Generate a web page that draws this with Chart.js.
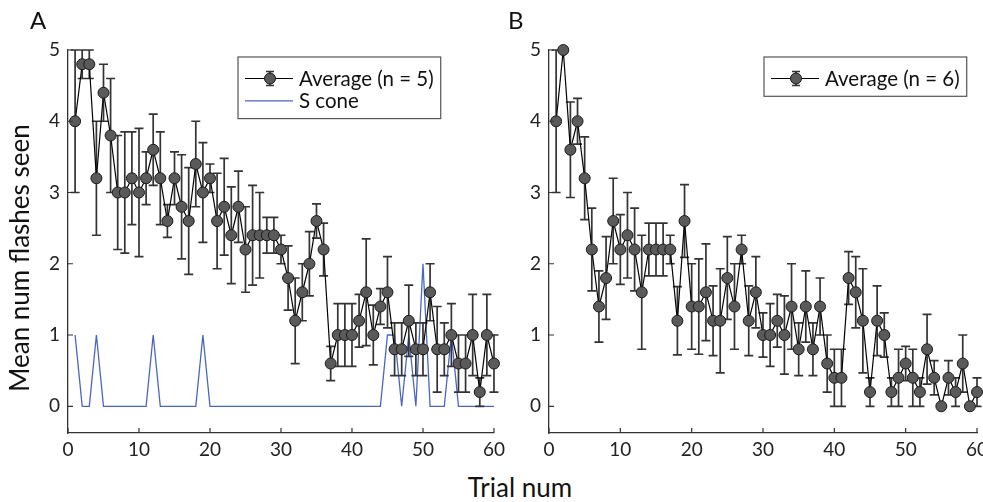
<!DOCTYPE html>
<html>
<head>
<meta charset="utf-8">
<script src="https://cdn.jsdelivr.net/npm/chart.js@4.4.1/dist/chart.umd.min.js"></script>
<style>
  body { margin: 0; width: 983px; height: 502px; overflow: hidden; background: #fff; position: relative; font-family: Lato, sans-serif; color: #111; }
  canvas { position: absolute; top: 0; }
  #chartA { left: 0; }
  #chartB { left: 480px; }
  .panel { position: absolute; font-size: 24px; line-height: 24px; }
  #ytitle { position: absolute; left: -181px; top: 245px; width: 400px; height: 26px; font-size: 26px; line-height: 26px; text-align: center; transform: rotate(-90deg); }
  #xtitle { position: absolute; left: 320px; top: 474px; width: 400px; font-size: 26px; line-height: 26px; text-align: center; }
</style>
</head>
<body>
<canvas id="chartA" width="510" height="470"></canvas>
<canvas id="chartB" width="520" height="470"></canvas>
<div class="panel" style="left:30px; top:8px">A</div>
<div class="panel" style="left:508px; top:8px">B</div>
<div id="ytitle">Mean num flashes seen</div>
<div id="xtitle">Trial num</div>
<script>
// trial numbers (shared by both panels)
const trials = [1, 2, 3, 4, 5, 6, 7, 8, 9, 10, 11, 12, 13, 14, 15, 16, 17, 18, 19, 20,
  21, 22, 23, 24, 25, 26, 27, 28, 29, 30, 31, 32, 33, 34, 35, 36, 37, 38, 39, 40,
  41, 42, 43, 44, 45, 46, 47, 48, 49, 50, 51, 52, 53, 54, 55, 56, 57, 58, 59, 60];

// panel A : average of 5 + S cone trace
const labelA = 'Average (n = 5)';
const meanA = [4.0, 4.8, 4.8, 3.2, 4.4, 3.8, 3.0, 3.0, 3.2, 3.0, 3.2, 3.6, 3.2, 2.6, 3.2, 2.8, 2.6, 3.4, 3.0, 3.2,
  2.6, 2.8, 2.4, 2.8, 2.2, 2.4, 2.4, 2.4, 2.4, 2.2, 1.8, 1.2, 1.6, 2.0, 2.6, 2.2, 0.6, 1.0, 1.0, 1.0,
  1.2, 1.6, 1.0, 1.4, 1.6, 0.8, 0.8, 1.2, 0.8, 0.8, 1.6, 0.8, 0.8, 1.0, 0.6, 0.6, 1.0, 0.2, 1.0, 0.6];
const errA = [1.0, 0.2, 0.2, 0.8, 0.4, 0.8, 0.8, 0.85, 0.65, 0.9, 0.37, 0.5, 0.65, 0.23, 0.37, 0.73, 0.75, 0.6, 0.7, 0.2,
  0.67, 0.68, 0.68, 0.5, 0.6, 0.7, 0.6, 0.25, 0.25, 0.2, 0.45, 0.6, 0.4, 0.45, 0.24, 0.37, 0.24, 0.44, 0.44, 0.44,
  0.37, 0.75, 0.42, 0.25, 0.5, 0.37, 0.37, 0.5, 0.37, 0.37, 0.4, 0.6, 0.37, 0.44, 0.4, 0.4, 0.57, 0.2, 0.57, 0.4];
const labelSCone = 'S cone';
const sConeA = [1, 0, 0, 1, 0, 0, 0, 0, 0, 0, 0, 1, 0, 0, 0, 0, 0, 0, 1, 0,
  0, 0, 0, 0, 0, 0, 0, 0, 0, 0, 0, 0, 0, 0, 0, 0, 0, 0, 0, 0,
  0, 0, 0, 0, 1, 1, 0, 1, 0, 2, 0, 0, 0, 1, 0, 0, 0, 0, 0, 0];

// panel B : average of 6
const labelB = 'Average (n = 6)';
const meanB = [4.0, 5.0, 3.6, 4.0, 3.2, 2.2, 1.4, 1.8, 2.6, 2.2, 2.4, 2.2, 1.6, 2.2, 2.2, 2.2, 2.2, 1.2, 2.6, 1.4,
  1.4, 1.6, 1.2, 1.2, 1.8, 1.4, 2.2, 1.2, 1.6, 1.0, 1.0, 1.2, 1.0, 1.4, 0.8, 1.4, 0.8, 1.4, 0.6, 0.4,
  0.4, 1.8, 1.6, 1.2, 0.2, 1.2, 1.0, 0.2, 0.4, 0.6, 0.4, 0.2, 0.8, 0.4, 0.0, 0.4, 0.2, 0.6, 0.0, 0.2];
const errB = [1.0, 0, 0.67, 0.32, 0.58, 0.58, 0.5, 0.58, 0.6, 0.49, 0.6, 0.58, 0.8, 0.37, 0.37, 0.37, 0.2, 0.48, 0.51, 0.6,
  0.67, 0.68, 0.49, 0.73, 0.58, 0.6, 0.2, 0.49, 0.5, 0.31, 0.44, 0.37, 0.55, 0.6, 0.37, 0.5, 0.37, 0.4, 0.4, 0.4,
  0.4, 0.37, 0.5, 0.73, 0.2, 0.49, 0.31, 0.2, 0.4, 0.24, 0.4, 0.2, 0.49, 0.24, 0, 0.24, 0.2, 0.4, 0, 0.2];

// axes
const xTicks = [0, 10, 20, 30, 40, 50, 60];
const yTicks = [0, 1, 2, 3, 4, 5];
const xMin = 0, xMax = 60, yMin = -0.375, yMax = 5;

Chart.defaults.font.family = 'Lato, sans-serif';
Chart.defaults.color = '#222';

// error bars, drawn under the line + markers
const errorBars = {
  id: 'errorBars',
  beforeDatasetDraw(chart, args) {
    const ds = chart.data.datasets[args.index];
    if (!ds.errors) return;
    const { ctx, scales: { x, y } } = chart;
    ctx.save();
    ctx.strokeStyle = '#333';
    ctx.lineWidth = 1.7;
    ctx.beginPath();
    ds.data.forEach((pt, i) => {
      const e = ds.errors[i];
      if (!e) return;
      const px = x.getPixelForValue(pt.x);
      const top = y.getPixelForValue(pt.y + e);
      const bot = y.getPixelForValue(pt.y - e);
      ctx.moveTo(px, top); ctx.lineTo(px, bot);
      ctx.moveTo(px - 4.5, top); ctx.lineTo(px + 4.5, top);
      ctx.moveTo(px - 4.5, bot); ctx.lineTo(px + 4.5, bot);
    });
    ctx.stroke();
    ctx.restore();
  }
};

// matlab style ticks pointing into the plot
const inwardTicks = {
  id: 'inwardTicks',
  afterDraw(chart) {
    const { ctx, chartArea, scales: { x, y } } = chart;
    ctx.save();
    ctx.strokeStyle = '#333';
    ctx.lineWidth = 1.2;
    ctx.beginPath();
    x.ticks.forEach(t => {
      const px = x.getPixelForValue(t.value);
      ctx.moveTo(px, chartArea.bottom); ctx.lineTo(px, chartArea.bottom - 5);
    });
    y.ticks.forEach(t => {
      const py = y.getPixelForValue(t.value);
      ctx.moveTo(chartArea.left, py); ctx.lineTo(chartArea.left + 5, py);
    });
    ctx.stroke();
    ctx.restore();
  }
};

// boxed legend with line + marker + errorbar glyph
const boxLegend = {
  id: 'boxLegend',
  afterDraw(chart, args, opts) {
    const { ctx } = chart;
    const sets = chart.data.datasets;
    ctx.save();
    ctx.font = '20.5px Lato, sans-serif';
    const textW = Math.max(...sets.map(d => ctx.measureText(d.label).width));
    const w = 61 + textW + 7;
    const h = 17 + 22.3 * sets.length;
    ctx.fillStyle = '#fff';
    ctx.fillRect(opts.left, opts.top, w, h);
    ctx.strokeStyle = '#555';
    ctx.lineWidth = 1.2;
    ctx.strokeRect(opts.left, opts.top, w, h);
    sets.forEach((d, i) => {
      const cy = opts.top + 21.5 + i * 22.3;
      ctx.strokeStyle = d.borderColor;
      ctx.lineWidth = d.borderWidth;
      ctx.beginPath();
      ctx.moveTo(opts.left + 7, cy); ctx.lineTo(opts.left + 55, cy);
      ctx.stroke();
      if (d.errors) {
        const mx = opts.left + 32;
        ctx.strokeStyle = '#333';
        ctx.lineWidth = 1.7;
        ctx.beginPath();
        ctx.moveTo(mx, cy - 7); ctx.lineTo(mx, cy + 7);
        ctx.moveTo(mx - 4, cy - 7); ctx.lineTo(mx + 4, cy - 7);
        ctx.moveTo(mx - 4, cy + 7); ctx.lineTo(mx + 4, cy + 7);
        ctx.stroke();
        ctx.beginPath();
        ctx.arc(mx, cy, d.pointRadius, 0, Math.PI * 2);
        ctx.fillStyle = d.pointBackgroundColor;
        ctx.fill();
        ctx.strokeStyle = d.pointBorderColor;
        ctx.lineWidth = d.pointBorderWidth;
        ctx.stroke();
      }
      ctx.fillStyle = '#111';
      ctx.textBaseline = 'middle';
      ctx.fillText(d.label, opts.left + 61, cy + 1);
    });
    ctx.restore();
  }
};

function averageSet(label, means, errs) {
  return {
    label: label,
    data: trials.map((t, i) => ({ x: t, y: means[i] })),
    errors: errs,
    borderColor: '#000',
    borderWidth: 1.2,
    pointRadius: 5.5,
    pointBackgroundColor: '#5a5a5a',
    pointBorderColor: '#1a1a1a',
    pointBorderWidth: 1,
    tension: 0,
    clip: false
  };
}

function makeOptions(yWidth, padRight, legendPos) {
  return {
    responsive: false,
    animation: false,
    events: [],
    layout: { padding: { top: 50, right: padRight, left: 0, bottom: 0 } },
    plugins: {
      legend: { display: false },
      tooltip: { enabled: false },
      boxLegend: legendPos
    },
    scales: {
      x: {
        type: 'linear', min: xMin, max: xMax,
        afterBuildTicks: s => { s.ticks = xTicks.map(v => ({ value: v })); },
        afterFit: s => { s.height = 37; },
        grid: { display: false, drawTicks: false },
        border: { color: '#333', width: 1.3 },
        ticks: { font: { size: 19 }, padding: 5, maxRotation: 0 }
      },
      y: {
        type: 'linear', min: yMin, max: yMax,
        afterBuildTicks: s => { s.ticks = yTicks.map(v => ({ value: v })); },
        afterFit: s => { s.width = yWidth; },
        grid: { display: false, drawTicks: false },
        border: { color: '#333', width: 1.3 },
        ticks: { font: { size: 19 }, padding: 8 }
      }
    }
  };
}

new Chart(document.getElementById('chartA').getContext('2d'), {
  type: 'line',
  data: {
    datasets: [
      averageSet(labelA, meanA, errA),
      {
        label: labelSCone,
        data: trials.map((t, i) => ({ x: t, y: sConeA[i] })),
        borderColor: '#4a67c0',
        borderWidth: 1.3,
        pointRadius: 0,
        tension: 0,
        clip: false
      }
    ]
  },
  options: makeOptions(68, 14, { left: 238, top: 57 }),
  plugins: [errorBars, inwardTicks, boxLegend]
});

new Chart(document.getElementById('chartB').getContext('2d'), {
  type: 'line',
  data: { datasets: [averageSet(labelB, meanB, errB)] },
  options: makeOptions(69, 23, { left: 284, top: 57 }),
  plugins: [errorBars, inwardTicks, boxLegend]
});
</script>
</body>
</html>
